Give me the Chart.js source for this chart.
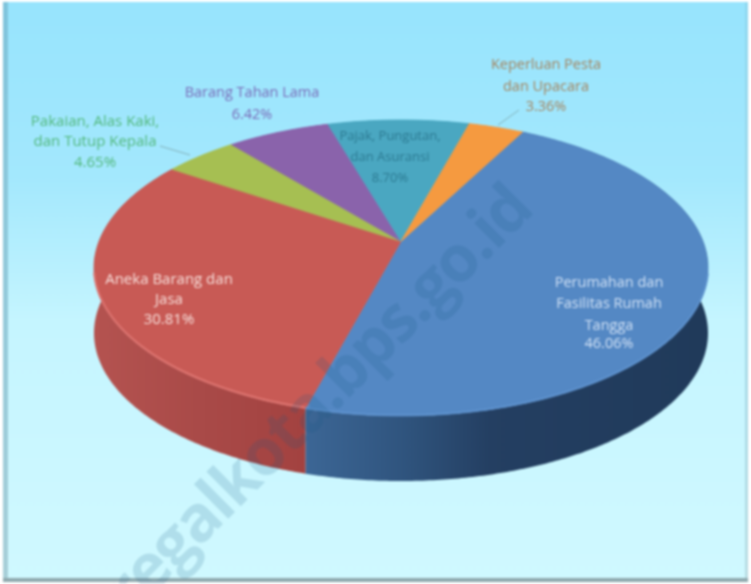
<!DOCTYPE html>
<html>
<head>
<meta charset="utf-8">
<style>
html,body{margin:0;padding:0;background:#fff;overflow:hidden}
#wrap{width:751px;height:584px;position:relative}
canvas{display:block;filter:blur(0.8px)}
</style>
<script src="https://cdn.jsdelivr.net/npm/chart.js@4/dist/chart.umd.js"></script>
</head>
<body>
<div id="wrap"><canvas id="c" width="751" height="584"></canvas></div>
<script>
const categories = ["Perumahan dan Fasilitas Rumah Tangga","Aneka Barang dan Jasa","Pakaian, Alas Kaki, dan Tutup Kepala","Barang Tahan Lama","Pajak, Pungutan, dan Asuransi","Keperluan Pesta dan Upacara"];
const values = [46.06,30.81,4.65,6.42,8.70,3.36];
const valueLabels = ["46.06%","30.81%","4.65%","6.42%","8.70%","3.36%"];
const nameLines = [["Perumahan dan","Fasilitas Rumah","Tangga"],["Aneka Barang dan","Jasa"],["Pakaian, Alas Kaki,","dan Tutup Kepala"],["Barang Tahan Lama"],["Pajak, Pungutan,","dan Asuransi"],["Keperluan Pesta","dan Upacara"]];
const sliceColors = ["#5488c4","#c85a55","#a6bf52","#8a63ab","#4aa7c1","#f59a40"];
const watermark = "regalkota.bps.go.id";

// layout
const G = {cx:401, cy:268, rx:307, ry:148, d:0.18, depth:65};
const labelLayout = [
  {x:609, ys:[283,304,326,344], color:"#cfe0f5", size:14.5},
  {x:169, ys:[280,300,320], color:"#f7dfdb", size:15},
  {x:95,  ys:[122,142,163], color:"#52b87c", size:15},
  {x:252, ys:[93,115], color:"#7a6bb8", size:14.5},
  {x:390, ys:[136,157,178], color:"#2c7a92", size:13},
  {x:546, ys:[65,87,107], color:"#a5845f", size:14.5}
];
const leaders = [[160,146,190,155],[519,110,498,125]];

function project(a){
  // small angular warp imitating the perspective of the original 3-D rendering
  const t=a+Math.PI/2, w=a+(1.6*Math.sin(t-50*Math.PI/180)+0.4)*Math.PI/180;
  const x=Math.cos(w), y=Math.sin(w), k=1-G.d*y, s=Math.sqrt(1-G.d*G.d);
  return [G.cx+G.rx*x*s/k, G.cy+G.ry*(y-G.d)/k];
}
function edge(start,end){
  const n=Math.max(2,Math.ceil((end-start)/0.01)), pts=[];
  for(let i=0;i<=n;i++) pts.push(project(start+(end-start)*i/n));
  return pts;
}
const ArcEl = Chart.registry.getElement('arc');
ArcEl.prototype.draw = function(ctx){
  const o=this.options, p=this.getProps(['startAngle','endAngle']);
  const pts=edge(p.startAngle,p.endAngle);
  ctx.save();
  ctx.beginPath();
  ctx.moveTo(G.cx,G.cy-G.ry*G.d);
  pts.forEach(q=>ctx.lineTo(q[0],q[1]));
  ctx.closePath();
  ctx.fillStyle=o.backgroundColor;
  ctx.fill();
  ctx.lineWidth=0.8;
  ctx.strokeStyle=o.backgroundColor;
  ctx.stroke();
  ctx.restore();
};

const scene = {
  id:'scene',
  beforeDraw(chart){
    const ctx=chart.ctx;
    ctx.save();
    ctx.fillStyle="#ffffff";ctx.fillRect(0,0,751,584);
    const g=ctx.createLinearGradient(0,0,0,584);
    g.addColorStop(0,"#97e4fd");g.addColorStop(0.3,"#a3e8fd");g.addColorStop(0.55,"#c5f5ff");g.addColorStop(1,"#d0f9ff");
    ctx.fillStyle=g;ctx.fillRect(3,2,745,577);
    const l=ctx.createLinearGradient(0,0,0,584);
    l.addColorStop(0,"#7fc4dc");l.addColorStop(1,"#a8cfd8");
    ctx.fillStyle=l;ctx.fillRect(3,2,5,577);
    const r=ctx.createLinearGradient(0,0,0,584);
    r.addColorStop(0,"#8fd8f0");r.addColorStop(1,"#b9dde3");
    ctx.fillStyle=r;ctx.fillRect(745,2,3,577);
    ctx.fillStyle="#8fa9ae";ctx.fillRect(3,578,745,4);
    ctx.restore();
  },
  beforeDatasetsDraw(chart){
    const ctx=chart.ctx, arcs=chart.getDatasetMeta(0).data;
    ctx.save();
    const sideFill=[
      [[307,"#3c6695"],[400,"#30557f"],[490,"#243f62"],[710,"#203a5a"]],
      [[95,"#b45350"],[200,"#a94a48"],[307,"#a34240"]]
    ];
    arcs.forEach((arc,i)=>{
      const pts=edge(arc.startAngle,arc.endAngle);
      ctx.beginPath();
      pts.forEach((q,j)=>j?ctx.lineTo(q[0],q[1]):ctx.moveTo(q[0],q[1]));
      pts.slice().reverse().forEach(q=>ctx.lineTo(q[0],q[1]+G.depth));
      ctx.closePath();
      if(sideFill[i]){
        const g=ctx.createLinearGradient(0,0,751,0);
        sideFill[i].forEach(s=>g.addColorStop(s[0]/751,s[1]));
        ctx.fillStyle=g;
      } else ctx.fillStyle=sliceColors[i];
      ctx.fill();
    });
    ctx.restore();
  },
  afterDatasetsDraw(chart){
    const ctx=chart.ctx, arcs=chart.getDatasetMeta(0).data;
    ctx.save();
    // lighter bevel along the front rim of the two large slices
    const rim=["#5c90cc","#dd7470"];
    [0,1].forEach(i=>{
      const arc=arcs[i], front=edge(arc.startAngle,arc.endAngle).filter(q=>q[1]>G.cy+5);
      ctx.beginPath();
      front.forEach((q,j)=>j?ctx.lineTo(q[0],q[1]-1):ctx.moveTo(q[0],q[1]-1));
      ctx.strokeStyle=rim[i];ctx.lineWidth=2;ctx.stroke();
    });
    // leader lines
    ctx.strokeStyle="rgba(110,140,140,0.6)";ctx.lineWidth=1;
    leaders.forEach(s=>{ctx.beginPath();ctx.moveTo(s[0],s[1]);ctx.lineTo(s[2],s[3]);ctx.stroke();});
    // labels
    ctx.textAlign="center";ctx.textBaseline="middle";
    categories.forEach((c,i)=>{
      const L=labelLayout[i], texts=nameLines[i].concat(valueLabels[i]);
      ctx.font=L.size+'px "Open Sans", sans-serif';
      ctx.fillStyle=L.color;
      texts.forEach((t,k)=>ctx.fillText(t,L.x,L.ys[k]));
    });
    // watermark
    ctx.translate(535,212);
    ctx.rotate(-Math.PI/4);
    ctx.font='bold 64px "Open Sans", sans-serif';
    ctx.letterSpacing='-2px';
    ctx.textAlign="right";ctx.textBaseline="alphabetic";
    ctx.fillStyle="rgba(20,90,130,0.16)";
    ctx.fillText(watermark,0,0);
    ctx.restore();
  }
};

new Chart(document.getElementById('c'),{
  type:'pie',
  data:{labels:categories,datasets:[{data:values,backgroundColor:sliceColors,borderWidth:0}]},
  options:{
    responsive:false,animation:false,rotation:28,
    plugins:{legend:{display:false},tooltip:{enabled:false}}
  },
  plugins:[scene]
});
</script>
</body>
</html>
